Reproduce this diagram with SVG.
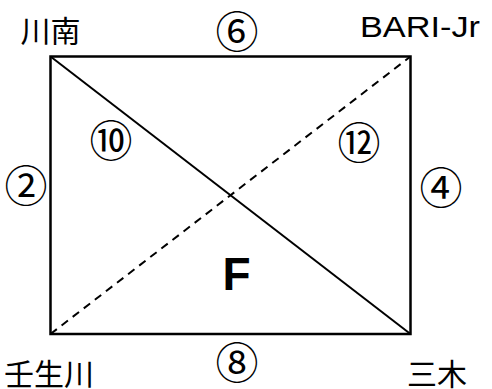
<svg xmlns="http://www.w3.org/2000/svg" width="492" height="389" viewBox="0 0 492 389">
<style>
.t{font-family:"Noto Sans CJK JP","Liberation Sans",sans-serif;fill:#000;text-anchor:middle;dominant-baseline:central}
.lbl{font-size:30px}
.lat{font-family:"Liberation Sans","Noto Sans CJK JP",sans-serif;font-size:29px}
.num{font-size:43px}
.big{font-family:"Liberation Sans","Noto Sans CJK JP",sans-serif;font-weight:bold;font-size:46px}
.edge{stroke:#000;stroke-width:2.5;fill:none}
.diag{stroke:#000;stroke-width:2;fill:none}
.dash{stroke-dasharray:8 6}
</style>
<rect width="492" height="389" fill="#fff"/>
<g id="connectors">
<rect class="edge" x="50.5" y="56.5" width="360" height="277.5"/>
<line class="diag" x1="50.5" y1="56.5" x2="410.5" y2="334"/>
<line class="diag dash" x1="50.5" y1="334" x2="410.5" y2="56.5"/>
</g>
<g id="n-kawaminami"><text class="t lbl" x="50.5" y="29">川南</text></g>
<g id="n-bari"><text class="t lat" x="420" y="27" textLength="120" lengthAdjust="spacingAndGlyphs">BARI-Jr</text></g>
<g id="n-nyugawa"><text class="t lbl" x="49" y="372">壬生川</text></g>
<g id="n-miki"><text class="t lbl" x="437" y="372">三木</text></g>
<g id="n-6"><text class="t num" x="237" y="29">⑥</text></g>
<g id="n-2"><text class="t num" x="26" y="183">②</text></g>
<g id="n-4"><text class="t num" x="441" y="185">④</text></g>
<g id="n-8"><text class="t num" x="237" y="360">⑧</text></g>
<g id="n-10"><text class="t num" x="111" y="138">⑩</text></g>
<g id="n-12"><text class="t num" x="359" y="140">⑫</text></g>
<g id="n-F"><text class="t big" x="236.5" y="273.5">F</text></g>
</svg>
